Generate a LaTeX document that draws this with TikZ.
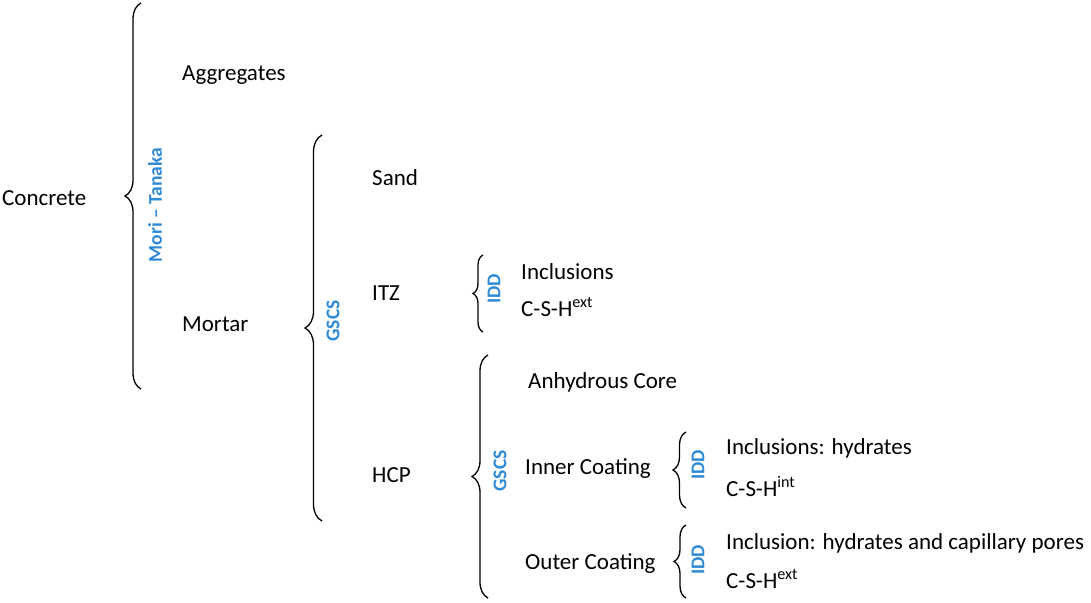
\documentclass[tikz,border=0pt]{standalone}
\usepackage{fontspec}
\setmainfont{Carlito}
\usetikzlibrary{decorations.pathreplacing}
\definecolor{modelblue}{RGB}{46,138,212}
\tikzset{
  term/.style={anchor=mid west, inner sep=0pt, yshift=-6pt, font=\fontsize{23}{27}\selectfont},
  model/.style={rotate=90, inner sep=0pt, text=modelblue, font=\fontsize{19.5}{23}\selectfont\bfseries},
  curly/.style={draw=black, line width=1.3pt, decorate, decoration={brace, amplitude=#1}},
}
\begin{document}
\begin{tikzpicture}[x=1pt, y=-1pt]
\useasboundingbox (0,0) rectangle (1091,602);

% level 0
\node[term] (concrete) at (2,197) {Concrete};
\coordinate (b1top) at (141,3);
\coordinate (b1bot) at (141,389);
\draw[curly=16pt] (b1bot) -- (b1top);
\node[model] (mt) at (155,205) {Mori – Tanaka};
\node[term] (aggr) at (182,72) {Aggregates};
\node[term] (mortar) at (182,323) {Mortar};

% mortar
\coordinate (b2top) at (322,135);
\coordinate (b2bot) at (322,521);
\draw[curly=17pt] (b2bot) -- (b2top);
\node[model] (gscs1) at (333,321) {GSCS};
\node[term] (sand) at (372,177) {Sand};
\node[term] (itz) at (372,292) {ITZ};
\node[term] (hcp) at (372,474) {HCP};

% ITZ
\coordinate (b3top) at (483,255);
\coordinate (b3bot) at (483,332);
\draw[curly=10pt] (b3bot) -- (b3top);
\node[model] (idd1) at (494,289) {IDD};
\node[term] (incl1) at (521,271) {Inclusions};
\node[term] (csh1) at (521,308) {C-S-H\textsuperscript{ext}};

% HCP
\coordinate (b4top) at (488,355);
\coordinate (b4bot) at (488,598);
\draw[curly=16pt] (b4bot) -- (b4top);
\node[model] (gscs2) at (500,471) {GSCS};
\node[term] (core) at (528,380) {Anhydrous Core};
\node[term] (inner) at (525,466) {Inner Coating};
\node[term] (outer) at (525,561) {Outer Coating};

% inner coating
\coordinate (b5top) at (686,432);
\coordinate (b5bot) at (686,508);
\draw[curly=13pt] (b5bot) -- (b5top);
\node[model] (idd2) at (698,465) {IDD};
\node[term] (incl2) at (726,446) {Inclusions: hydrates};
\node[term] (csh2) at (726,488) {C-S-H\textsuperscript{int}};

% outer coating
\coordinate (b6top) at (686,525);
\coordinate (b6bot) at (686,598);
\draw[curly=12pt] (b6bot) -- (b6top);
\node[model] (idd3) at (698,560) {IDD};
\node[term] (incl3) at (726,541) {Inclusion: hydrates and capillary pores};
\node[term] (csh3) at (726,580) {C-S-H\textsuperscript{ext}};
\end{tikzpicture}
\end{document}
